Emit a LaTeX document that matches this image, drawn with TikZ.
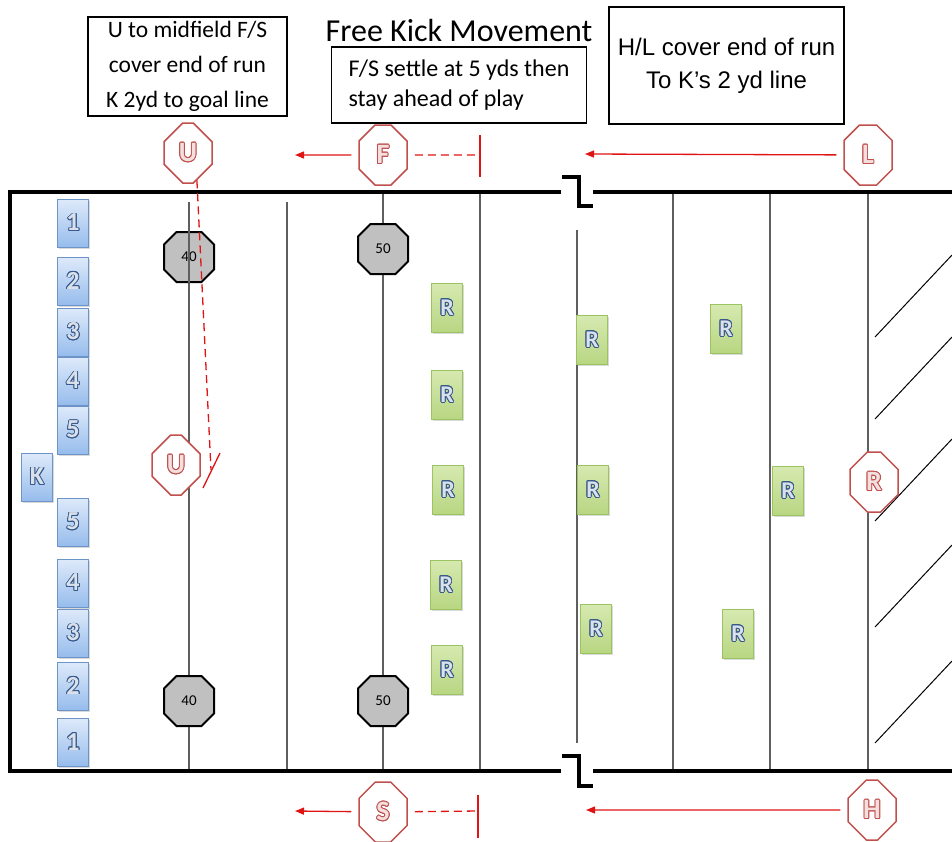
\documentclass[tikz,border=0pt]{standalone}
\usepackage{fontspec}
\usepackage{xcolor}
\usepackage{tikz}
\usepackage{contour}
\setmainfont{Carlito}
\newfontfamily\arialFont{Liberation Sans}
\usetikzlibrary{shapes.misc, shadows, arrows.meta}
\definecolor{fieldGrey}{RGB}{95, 95, 95}
\definecolor{runRed}{RGB}{225, 20, 20}
\definecolor{officialRed}{RGB}{192, 80, 77}
\definecolor{blockerTop}{RGB}{222, 234, 250}
\definecolor{blockerBottom}{RGB}{150, 188, 236}
\definecolor{blockerEdge}{RGB}{108, 148, 200}
\definecolor{letterBlue}{RGB}{55, 90, 140}
\definecolor{returnTop}{RGB}{214, 233, 176}
\definecolor{returnBottom}{RGB}{184, 214, 130}
\definecolor{returnEdge}{RGB}{155, 195, 95}
\definecolor{markerGrey}{RGB}{192, 192, 192}
\contourlength{0.9pt}
\newcommand{\outlineText}[2]{\contour{#1}{\textcolor{#1!18!white}{#2}}}

\begin{document}
\begin{tikzpicture}[x=1pt, y=-1pt,
    yardLine/.style={fieldGrey, line width=1.5pt},
    sideLine/.style={black, line width=4pt, line join=miter},
    blockerBox/.style={draw=blockerEdge, line width=1pt, top color=blockerTop, bottom color=blockerBottom,
        minimum width=31pt, minimum height=48pt, inner sep=0pt,
        font=\fontsize{26}{26}\bfseries\selectfont,
        drop shadow={shadow xshift=1pt, shadow yshift=-1.5pt, opacity=0.3}},
    returnBox/.style={draw=returnEdge, line width=1pt, top color=returnTop, bottom color=returnBottom,
        minimum width=31pt, minimum height=49pt, inner sep=0pt,
        font=\fontsize{24}{24}\bfseries\selectfont,
        drop shadow={shadow xshift=1pt, shadow yshift=-1.5pt, opacity=0.3}},
    yardMarker/.style={chamfered rectangle, chamfered rectangle xsep=14.5pt, chamfered rectangle ysep=14.5pt,
        draw=black, line width=2pt, fill=markerGrey, minimum width=50pt, minimum height=50pt,
        inner sep=0pt, font=\fontsize{15}{15}\selectfont},
    officialOct/.style={chamfered rectangle, chamfered rectangle xsep=10pt, chamfered rectangle ysep=13pt,
        draw=officialRed, line width=1.5pt, fill=white, minimum width=48pt, minimum height=60pt,
        inner sep=0pt, font=\fontsize{28}{28}\bfseries\selectfont},
    noteBox/.style={draw=black, line width=1.5pt, inner sep=0pt},
    runArrow/.style={runRed, line width=1.3pt, -{Triangle[length=9pt, width=7pt]}, shorten <=7pt},
    runDash/.style={runRed, line width=1.3pt, dash pattern=on 8pt off 5pt, shorten <=7pt},
    runStop/.style={runRed, line width=1.3pt}]
    \useasboundingbox (0,0) rectangle (952,841);

    % Yard lines
    \foreach \x in {189, 287} {
        \draw[yardLine] (\x,202) -- (\x,771);
    }
    \foreach \x in {383, 480, 673, 770, 868} {
        \draw[yardLine] (\x,192) -- (\x,771);
    }
    \draw[yardLine] (577,230) -- (577,743);

    % End zone hatching
    \foreach \y in {337, 419, 521, 627, 743} {
        \draw[black, line width=1pt] (875,\y) -- ++(77,-82);
    }

    % Sidelines, broken in the middle
    \draw[sideLine] (561,192) -- (10,192) -- (10,771) -- (561,771);
    \draw[sideLine] (593,192) -- (952,192);
    \draw[sideLine] (593,771) -- (952,771);
    \draw[sideLine] (562,177) -- (579,177) -- (579,206) -- (593,206);
    \draw[sideLine] (562,756) -- (579,756) -- (579,786) -- (593,786);

    % Title and notes
    \node (title) at (459,41) [anchor=base, font=\fontsize{32}{32}\selectfont] {Free Kick Movement};
    \node[noteBox, minimum width=199pt, minimum height=99pt, align=center,
        font=\fontsize{23.5}{35}\selectfont] (noteU) at (187.5,66.5)
        {U to midfield F/S\\cover end of run\\K 2yd to goal line};
    \node[noteBox, minimum width=255pt, minimum height=76pt, align=left,
        font=\fontsize{24}{30}\selectfont] (noteF) at (459,85)
        {F/S settle at 5 yds then\\stay ahead of play};
    \node[noteBox, minimum width=235pt, minimum height=117pt, align=center,
        font=\arialFont\fontsize{24}{33}\selectfont] (noteH) at (726.5,65.5)
        {H/L cover end of run\\To K’s 2 yd line};

    % Yard markers
    \node[yardMarker] (g40a) at (189,257) {40};
    \node[yardMarker] (g40b) at (189,701) {40};
    \node[yardMarker] (g50a) at (383,249) {50};
    \node[yardMarker] (g50b) at (383,701) {50};
    \draw[yardLine] (g40a.north) -- (g40a.south);

    % Kicking team
    \foreach \n/\num/\y in {b1/1/223, b2/2/281, b3/3/332, b4/4/381, b5/5/430,
                           c5/5/522, c4/4/583, c3/3/633, c2/2/686, c1/1/742} {
        \node[blockerBox] (\n) at (73,\y) {\outlineText{letterBlue}{\num}};
    }
    \node[blockerBox] (kicker) at (37,477) {\outlineText{letterBlue}{K}};

    % Receiving team
    \foreach \n/\x/\y in {r1/447/308, r2/447/395, r3/448/490, r4/446/585, r5/447/670,
                         r6/592/340, r7/593/490, r8/596/629, r9/726/329, r10/788/491, r11/738/634} {
        \node[returnBox] (\n) at (\x,\y) {\outlineText{letterBlue}{R}};
    }

    % Officials
    \node[officialOct] (uTop) at (188,153) {\outlineText{officialRed}{U}};
    \node[officialOct] (uMid) at (176,465) {\outlineText{officialRed}{U}};
    \node[officialOct] (fj) at (383,155) {\outlineText{officialRed}{F}};
    \node[officialOct] (lj) at (868,155) {\outlineText{officialRed}{L}};
    \node[officialOct] (rf) at (874,482) {\outlineText{officialRed}{R}};
    \node[officialOct] (sj) at (383,812) {\outlineText{officialRed}{S}};
    \node[officialOct] (hl) at (872,810) {\outlineText{officialRed}{H}};

    % Movement of officials
    \coordinate (fTip) at (295,155);
    \coordinate (fMark) at (480,155);
    \coordinate (lTip) at (585,154);
    \coordinate (sTip) at (295,811);
    \coordinate (sMark) at (478,811);
    \coordinate (hTip) at (586,810);
    \coordinate (uEnd) at (211,470);

    \draw[runArrow] (fj) -- (fTip);
    \draw[runDash] (fj) -- (fMark);
    \draw[runStop] (fMark) ++(0,-20) -- ++(0,42);
    \draw[runArrow] (lj) -- (lTip);
    \draw[runArrow] (sj) -- (sTip);
    \draw[runDash] (sj) -- (sMark);
    \draw[runStop] (sMark) ++(0,-16) -- ++(0,43);
    \draw[runArrow] (hl) -- (hTip);
    \draw[runDash, shorten <=0pt] (uTop.-72) -- (uEnd);
    \draw[runStop] (uEnd) ++(-8,18) -- ++(17,-35);
\end{tikzpicture}
\end{document}
